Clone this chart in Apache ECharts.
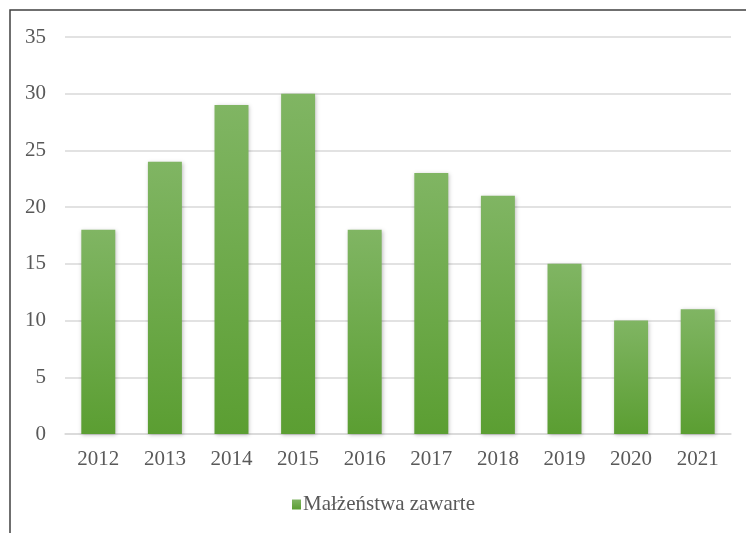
<!DOCTYPE html>
<html>
<head>
<meta charset="utf-8">
<script src="https://cdn.jsdelivr.net/npm/echarts@6/dist/echarts.min.js"></script>
<style>
  html, body { margin: 0; padding: 0; background: #fff; }
  #chart { width: 746px; height: 533px; }
</style>
</head>
<body>
<div id="chart"></div>
<script>
const years = ['2012', '2013', '2014', '2015', '2016', '2017', '2018', '2019', '2020', '2021']
const marriages = [18, 24, 29, 30, 18, 23, 21, 15, 10, 11]
const seriesName = 'Małżeństwa zawarte'

const font = 'Liberation Serif'
const chart = echarts.init(document.getElementById('chart'))

chart.setOption({
  animation: false,
  textStyle: { fontFamily: font },
  graphic: [{
    type: 'polyline',
    shape: { points: [[10, 533], [10, 10], [746, 10]] },
    style: { stroke: '#404040', lineWidth: 1.5, fill: null },
    silent: true
  }],
  grid: {
    left: 65,
    right: 15,
    top: 37,
    bottom: 99
  },
  legend: {
    top: 494,
    left: 292,
    padding: 0,
    itemWidth: 9,
    itemHeight: 10,
    itemGap: 4,
    icon: 'rect',
    textStyle: { fontFamily: font, fontSize: 21, color: '#595959', padding: [0, 0, 0, -3] },
    data: [seriesName]
  },
  xAxis: {
    type: 'category',
    data: years,
    axisLine: { show: true, lineStyle: { color: '#d9d9d9', width: 1.5 } },
    axisTick: { show: false },
    axisLabel: { fontFamily: font, fontSize: 21, color: '#595959', margin: 15 }
  },
  yAxis: {
    type: 'value',
    min: 0,
    max: 35,
    interval: 5,
    axisLine: { show: false },
    axisTick: { show: false },
    splitLine: { lineStyle: { color: '#d9d9d9', width: 1.5 } },
    axisLabel: { fontFamily: font, fontSize: 21, color: '#595959', margin: 19 }
  },
  series: [{
    name: seriesName,
    type: 'bar',
    data: marriages,
    barWidth: '51%',
    itemStyle: {
      color: new echarts.graphic.LinearGradient(0, 0, 0, 1, [
        { offset: 0, color: '#80b563' },
        { offset: 1, color: '#5b9e32' }
      ]),
      shadowColor: 'rgba(0,0,0,0.25)',
      shadowBlur: 4,
      shadowOffsetX: 1,
      shadowOffsetY: 1
    }
  }]
})
</script>
</body>
</html>
